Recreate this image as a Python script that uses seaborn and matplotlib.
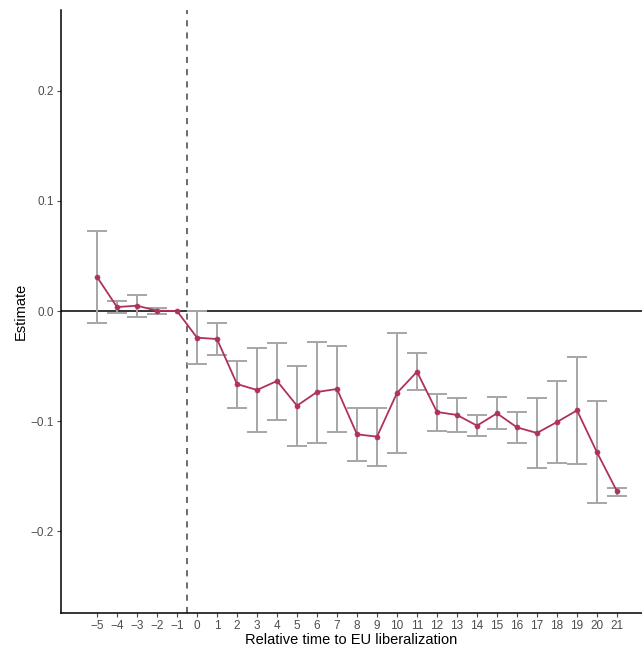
import matplotlib
matplotlib.use("Agg")
import matplotlib.pyplot as plt
import seaborn as sns
import pandas as pd

rel_time = list(range(-5, 22))
estimate = [0.031, 0.0036, 0.0048, 0.0003, 0.0,
            -0.0242, -0.0255, -0.0664, -0.0718, -0.0636, -0.0861, -0.0736, -0.0709,
            -0.1121, -0.1142, -0.0745, -0.0552, -0.0918, -0.0945, -0.1042, -0.093,
            -0.1058, -0.1109, -0.1009, -0.0903, -0.1285, -0.1639]
upper = [0.073, 0.009, 0.0148, 0.0027, 0.0,
         -0.0003, -0.0106, -0.0455, -0.0333, -0.0288, -0.0497, -0.0279, -0.0315,
         -0.0882, -0.0879, -0.0197, -0.0379, -0.0752, -0.0794, -0.0945, -0.0782,
         -0.0915, -0.0788, -0.0633, -0.0415, -0.0821, -0.1606]
lower = [-0.0106, -0.0015, -0.0055, -0.0024, 0.0,
         -0.048, -0.0397, -0.088, -0.1103, -0.0988, -0.1224, -0.1197, -0.1103,
         -0.1361, -0.1406, -0.1291, -0.0718, -0.1088, -0.11, -0.1136, -0.1076,
         -0.12, -0.1427, -0.1382, -0.1388, -0.1748, -0.1679]
yticks = [-0.2, -0.1, 0.0, 0.1, 0.2]
ytick_labels = ["\u22120.2", "\u22120.1", "0.0", "0.1", "0.2"]
xtick_labels = [("\u2212" + str(-v)) if v < 0 else str(v) for v in rel_time]

df = pd.DataFrame({"t": rel_time, "est": estimate, "lo": lower, "hi": upper})

sns.set_theme(style="ticks")
plt.rcParams["font.family"] = ["Liberation Sans", "DejaVu Sans"]

fig = plt.figure(figsize=(6.42, 6.49), dpi=100)
ax = fig.add_axes([61 / 642, 36 / 649, (642 - 61) / 642, 603 / 649])

ax.axhline(0, color="black", lw=1.1, zorder=1)
ax.axvline(-0.5, color="#444444", lw=1.1, ls=(0, (4, 4)), zorder=1)

mask = [i for i in range(len(df)) if not (df.lo[i] == 0 and df.hi[i] == 0)]
sub = df.iloc[mask]
ax.errorbar(sub.t, sub.est,
            yerr=[sub.est - sub.lo, sub.hi - sub.est],
            fmt="none", ecolor="#A6A6A6", elinewidth=1.4, capsize=7, capthick=1.4, zorder=2)

sns.lineplot(data=df, x="t", y="est", color="#B03060", lw=1.3, ax=ax, zorder=3)
sns.scatterplot(data=df, x="t", y="est", color="#B03060", s=14, edgecolor="#B03060", ax=ax, zorder=4)

ax.set_xlim(-6.8, 22.25)
ax.set_ylim(-0.2745, 0.2736)
ax.set_xticks(rel_time)
ax.set_xticklabels(xtick_labels)
ax.set_yticks(yticks)
ax.set_yticklabels(ytick_labels)
ax.tick_params(axis="both", labelsize=8.5, colors="#4D4D4D", length=3, width=0.8, labelcolor="#4D4D4D")
ax.tick_params(axis="y", pad=2)
ax.tick_params(axis="x", pad=2)
ax.set_xlabel("Relative time to EU liberalization", fontsize=10.5, color="black", labelpad=1)
ax.set_ylabel("Estimate", fontsize=10.5, color="black", labelpad=2)
for s in ["top", "right"]:
    ax.spines[s].set_visible(False)
for s in ["left", "bottom"]:
    ax.spines[s].set_color("black")
    ax.spines[s].set_linewidth(1.1)

fig.savefig("out.png", dpi=100)
